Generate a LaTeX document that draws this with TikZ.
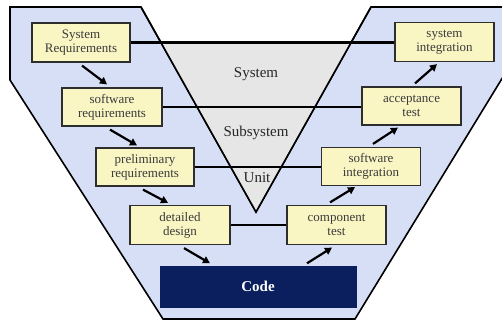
\documentclass[tikz,border=0pt]{standalone}
\usepackage{fontspec}
\setmainfont{Liberation Serif}
\usetikzlibrary{arrows.meta}
\definecolor{vblue}{HTML}{D6DFF6}
\definecolor{vgray}{HTML}{E6E6E6}
\definecolor{vyell}{HTML}{FAF6C4}
\definecolor{vnavy}{HTML}{0B1F5E}
\definecolor{vtext}{HTML}{3A3A3A}
\tikzset{
  phase/.style={draw=vtext!80!black, line width=1.2pt, fill=vyell, text=vtext,
    align=center, inner sep=1pt, font=\fontsize{13}{14}\selectfont},
  codebox/.style={fill=vnavy, text=white, font=\fontsize{15}{17}\selectfont\bfseries},
  arr/.style={line width=2.2pt, -{Triangle[length=7pt,width=7.5pt]}},
  link/.style={line width=2.4pt},
  lvl/.style={font=\fontsize{15}{17}\selectfont, text=black!85}
}
\begin{document}
\begin{tikzpicture}[x=1pt,y=-1pt]
\useasboundingbox (0,0) rectangle (502,322);
\clip (0,0) rectangle (502,322);
% outer blue shape
\draw[fill=vblue, line width=1.6pt, line join=miter]
  (10,7) -- (141,7) -- (256,212) -- (371,7) -- (506,7) -- (506,72) -- (355,319) -- (163,319) -- (10,80) -- cycle;
% gray inner triangle
\fill[vgray] (161,43) -- (351,43) -- (256,212) -- cycle;
\draw[line width=1.6pt] (141,7) -- (256,212) -- (371,7);
% level labels
\node[lvl] (lsys) at (256,74) {System};
\node[lvl] (lsub) at (256,133) {Subsystem};
\node[lvl] (lunit) at (257,178) {Unit};
% boxes
\node[phase, minimum width=98pt, minimum height=39pt] (sr) at (81,42.5) {System\\Requirements};
\node[phase, minimum width=100pt, minimum height=38pt] (swr) at (112,107) {software\\requirements};
\node[phase, minimum width=98pt, minimum height=38pt] (pr) at (145,167) {preliminary\\requirements};
\node[phase, minimum width=100pt, minimum height=39pt] (dd) at (180,225) {detailed\\design};
\node[codebox, minimum width=197pt, minimum height=42pt] (code) at (258,286.5) {Code};
\node[phase, minimum width=99pt, minimum height=39pt] (ct) at (336.5,225) {component\\test};
\node[phase, minimum width=99pt, minimum height=38pt] (si) at (371,166.5) {software\\integration};
\node[phase, minimum width=99pt, minimum height=38pt] (at) at (411.5,106) {acceptance\\test};
\node[phase, minimum width=99pt, minimum height=39pt] (sysi) at (444.5,42) {system\\integration};
% horizontal links
\draw[link] (sr.east) -- (sr.east -| sysi.west);
\draw[link] (swr.east) -- (swr.east -| at.west);
\draw[link] (pr.east) -- (pr.east -| si.west);
\draw[link] (dd.east) -- (dd.east -| ct.west);
% arrows
\draw[arr] ([xshift=1pt,yshift=-3pt]sr.south) -- ([xshift=-5pt,yshift=3pt]swr.north);
\draw[arr] ([xshift=-2pt,yshift=-3pt]swr.south) -- ([xshift=-8pt,yshift=2pt]pr.north);
\draw[arr] ([xshift=-2pt,yshift=-3pt]pr.south) -- ([xshift=-12pt,yshift=2pt]dd.north);
\draw[arr] ([xshift=4pt,yshift=-3pt]dd.south) -- ([xshift=-48pt,yshift=2pt]code.north);
\draw[arr] ([xshift=49pt,yshift=2pt]code.north) -- ([xshift=-4.5pt,yshift=-2.5pt]ct.south);
\draw[arr] ([xshift=-6.5pt,yshift=2.5pt]ct.north) -- ([xshift=-16pt,yshift=-1pt]si.south);
\draw[arr] ([xshift=2pt,yshift=3pt]si.north) -- ([xshift=-13.5pt,yshift=-2pt]at.south);
\draw[arr] ([xshift=3.5pt,yshift=3pt]at.north) -- ([xshift=-7.5pt,yshift=-2pt]sysi.south);
\end{tikzpicture}
\end{document}
